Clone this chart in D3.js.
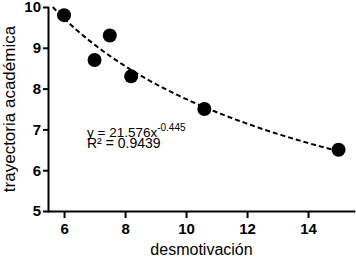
<!DOCTYPE html>
<html>
<head>
<meta charset="utf-8">
<script src="https://cdn.jsdelivr.net/npm/d3@7"></script>
<style>
  body { margin: 0; background: #fff; }
  svg { display: block; font-family: "Liberation Sans", Arial, sans-serif; }
</style>
</head>
<body>
<svg id="chart" width="356" height="257"></svg>
<script>
// data
var desmotivacion = [6, 7, 7.5, 8.2, 10.6, 15];
var trayectoria = [9.8, 8.7, 9.3, 8.3, 7.5, 6.5];
var xTicks = [6, 8, 10, 12, 14];
var yTicks = [5, 6, 7, 8, 9, 10];
// power fit shown on the chart: y = a * x^b
var fitA = 21.576;
var fitB = -0.445;
var fitR2 = '0.9439';
var fitRange = [5.63, 15];

var svg = d3.select('#chart');

var xScale = d3.scaleLinear()
    .domain([5.5, 15.5])
    .range([48.8, 353.8]);

var yScale = d3.scaleLinear()
    .domain([5, 10])
    .range([211, 7]);

// axes
var xAxis = svg.append('g')
    .attr('transform', 'translate(0,211)')
    .call(d3.axisBottom(xScale).tickValues(xTicks).tickFormat(d3.format('d'))
        .tickSize(7).tickSizeOuter(0).tickPadding(5));
var yAxis = svg.append('g')
    .attr('transform', 'translate(48,0)')
    .call(d3.axisLeft(yScale).tickValues(yTicks).tickFormat(d3.format('d'))
        .tickSize(5).tickSizeOuter(0).tickPadding(2));

[xAxis, yAxis].forEach(function(ax) {
    ax.select('.domain').attr('stroke-width', 2).attr('stroke-linecap', 'square');
    ax.selectAll('.tick line').attr('stroke-width', 2);
    ax.selectAll('.tick text')
        .attr('font-family', '"Liberation Sans", Arial, sans-serif')
        .attr('font-size', '15px')
        .attr('font-weight', 'bold')
        .attr('fill', '#000');
});

// fit curve
var curveX = d3.range(fitRange[0], fitRange[1], 0.1).concat([fitRange[1]]);
var line = d3.line()
    .x(function(d){ return xScale(d); })
    .y(function(d){ return yScale(fitA * Math.pow(d, fitB)); });

svg.append('path')
    .datum(curveX)
    .attr('d', line)
    .attr('fill', 'none')
    .attr('stroke', '#000')
    .attr('stroke-width', 2)
    .attr('stroke-dasharray', '5,3');

// points
svg.selectAll('circle')
    .data(desmotivacion)
    .enter()
    .append('circle')
    .attr('cx', function(d){ return xScale(d); })
    .attr('cy', function(d, i){ return yScale(trayectoria[i]); })
    .attr('r', 7)
    .attr('fill', '#000');

// equation
var eq = svg.append('text')
    .attr('x', 87)
    .attr('y', 137)
    .attr('font-size', '13.5px');
eq.append('tspan').text('y = ' + fitA + 'x');
eq.append('tspan').attr('dy', -6).attr('font-size', '10px').text(fitB);

svg.append('text')
    .attr('x', 87)
    .attr('y', 148)
    .attr('font-size', '14px')
    .text('R\u00b2 = ' + fitR2);

// axis titles
svg.append('text')
    .attr('x', 201.5)
    .attr('y', 255)
    .attr('text-anchor', 'middle')
    .attr('font-size', '16px')
    .text('desmotivación');

svg.append('text')
    .attr('transform', 'translate(15,109) rotate(-90)')
    .attr('text-anchor', 'middle')
    .attr('font-size', '17px')
    .text('trayectoria académica');
</script>
</body>
</html>
